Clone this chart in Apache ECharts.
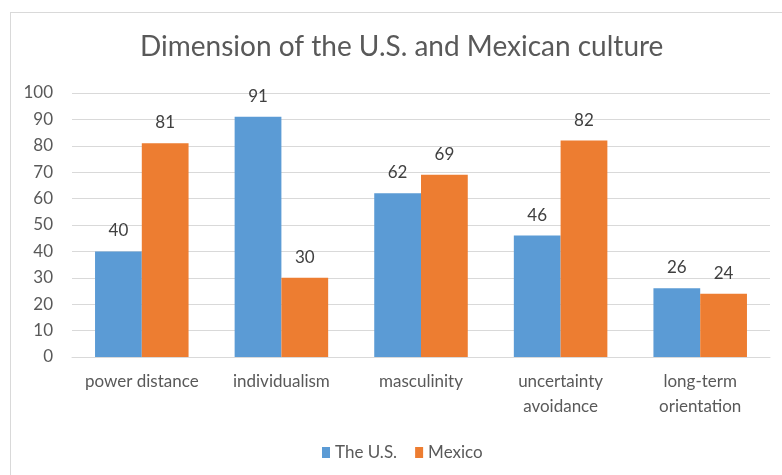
<!DOCTYPE html>
<html>
<head>
<meta charset="utf-8">
<script src="https://cdn.jsdelivr.net/npm/echarts@6/dist/echarts.min.js"></script>
<style>
  html, body { margin: 0; padding: 0; background: #fff; }
  #frame {
    position: absolute; left: 10px; top: 12px; width: 780px; height: 470px;
    border: 1px solid #d9d9d9; box-sizing: border-box;
  }
  #chart { position: absolute; left: 0; top: 0; width: 782px; height: 475px; }
</style>
</head>
<body>
<div id="frame"></div>
<div id="chart"></div>
<script>
// 文化维度数据
const categories = ['power distance', 'individualism', 'masculinity', 'uncertainty\navoidance', 'long-term\norientation']
const usValues = [40, 91, 62, 46, 26]
const mexicoValues = [81, 30, 69, 82, 24]
const seriesNames = ['The U.S.', 'Mexico']

const font = 'Lato, "Open Sans", sans-serif'
const labelStyle = { show: true, position: 'top', color: '#404040', fontSize: 17, fontFamily: font, distance: 12 }

const chart = echarts.init(document.getElementById('chart'))
chart.setOption({
  animation: false,
  textStyle: { fontFamily: font },
  title: {
    text: 'Dimension of the U.S. and Mexican culture',
    left: 135,
    top: 28,
    textStyle: { fontSize: 28, fontWeight: 'normal', color: '#595959', fontFamily: font }
  },
  legend: {
    data: seriesNames,
    top: 439,
    left: 317,
    icon: 'rect',
    itemWidth: 8,
    itemHeight: 11,
    itemGap: 18,
    textStyle: { fontSize: 17, color: '#595959', fontFamily: font }
  },
  grid: { left: 72, right: 12, top: 93, bottom: 118 },
  xAxis: {
    type: 'category',
    data: categories,
    axisTick: { show: false },
    axisLine: { lineStyle: { color: '#d9d9d9' } },
    axisLabel: { color: '#595959', fontSize: 17, lineHeight: 25, margin: 12, fontFamily: font, interval: 0 }
  },
  yAxis: {
    type: 'value',
    min: 0,
    max: 100,
    interval: 10,
    axisLine: { show: false },
    axisTick: { show: false },
    splitLine: { lineStyle: { color: '#d9d9d9' } },
    axisLabel: { color: '#595959', fontSize: 17, margin: 19, fontFamily: font }
  },
  series: [
    {
      name: seriesNames[0], type: 'bar', data: usValues,
      itemStyle: { color: '#5b9bd5' },
      barGap: '0%', barCategoryGap: '33%',
      label: labelStyle
    },
    {
      name: seriesNames[1], type: 'bar', data: mexicoValues,
      itemStyle: { color: '#ed7d31' },
      barGap: '0%', barCategoryGap: '33%',
      label: labelStyle
    }
  ]
})
</script>
</body>
</html>
